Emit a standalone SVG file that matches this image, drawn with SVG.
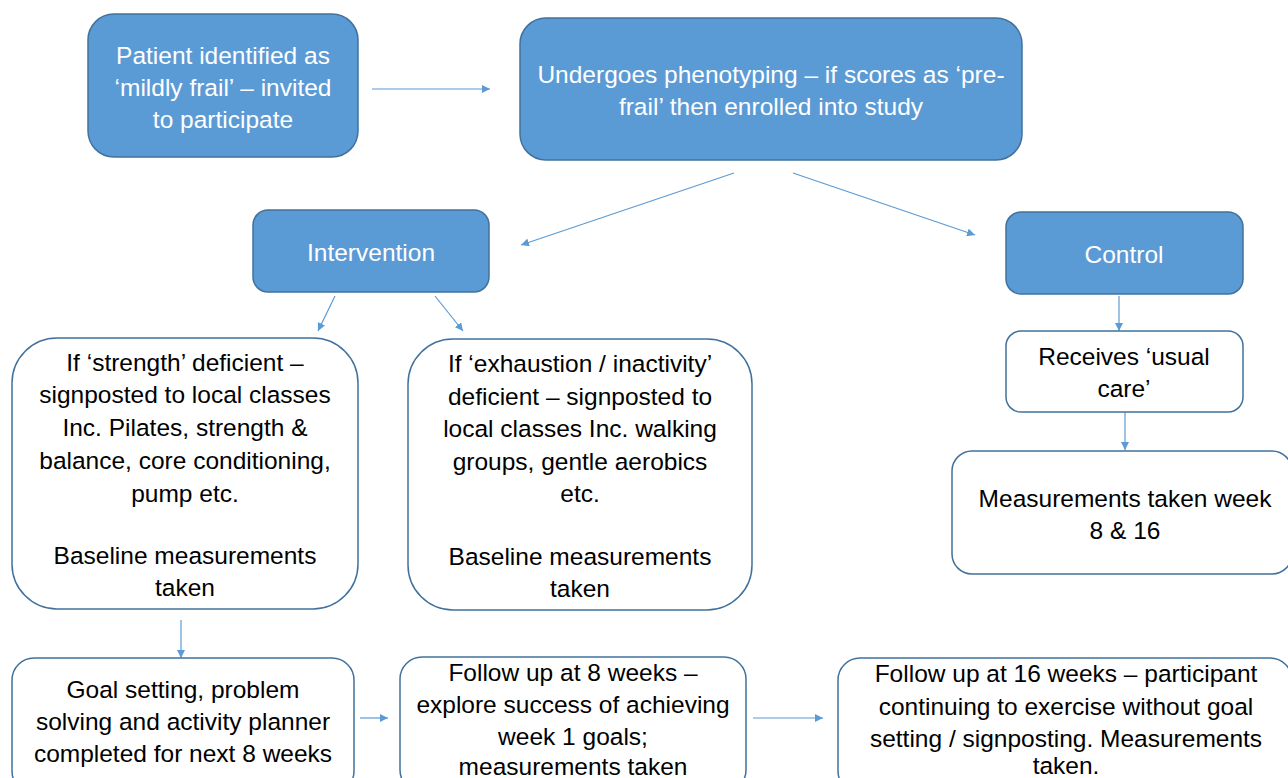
<svg xmlns="http://www.w3.org/2000/svg" width="1288" height="778" viewBox="0 0 1288 778">
<defs>
<style>
.blue{fill:#5b9bd5;stroke:#41719c;stroke-width:1.5}
.white{fill:#ffffff;stroke:#41719c;stroke-width:1.5}
text{font-family:"Liberation Sans","Open Sans",sans-serif;font-size:24.5px;text-anchor:middle}
.wt{fill:#ffffff}
.bt{fill:#000000}
.conn line{stroke:#5b9bd5;stroke-width:1.2;marker-end:url(#ah)}
</style>
<marker id="ah" viewBox="0 0 10 10" refX="10" refY="5" markerWidth="8" markerHeight="8" markerUnits="userSpaceOnUse" orient="auto">
<path d="M0,0 L10,5 L0,10 z" fill="#5b9bd5"/>
</marker>
</defs>
<rect width="1288" height="778" fill="#ffffff"/>
<g class="conn">
<line x1="372" y1="89" x2="490" y2="89"/>
<line x1="734" y1="173" x2="521" y2="245"/>
<line x1="793" y1="173" x2="975" y2="235"/>
<line x1="335" y1="296" x2="318" y2="331"/>
<line x1="435" y1="296" x2="463" y2="331"/>
<line x1="1119" y1="296" x2="1119" y2="331"/>
<line x1="1125" y1="412" x2="1125" y2="450"/>
<line x1="181" y1="620" x2="181" y2="658"/>
<line x1="360" y1="718" x2="388" y2="718"/>
<line x1="753" y1="718" x2="823" y2="718"/>
</g>
<g id="n1">
<rect class="blue" x="88" y="14" width="270" height="143" rx="26"/>
<text class="wt" x="223" y="64">Patient identified as</text>
<text class="wt" x="223" y="96">‘mildly frail’ – invited</text>
<text class="wt" x="223" y="128">to participate</text>
</g>
<g id="n2">
<rect class="blue" x="520" y="18" width="502" height="142" rx="26"/>
<text class="wt" x="771" y="83">Undergoes phenotyping – if scores as ‘pre-</text>
<text class="wt" x="771" y="115">frail’ then enrolled into study</text>
</g>
<g id="n3">
<rect class="blue" x="253" y="210" width="236" height="82" rx="15"/>
<text class="wt" x="371" y="261">Intervention</text>
</g>
<g id="n4">
<rect class="blue" x="1006" y="212" width="237" height="82" rx="15"/>
<text class="wt" x="1124" y="263">Control</text>
</g>
<g id="n5">
<rect class="white" x="12" y="338" width="346" height="271" rx="45"/>
<text class="bt" x="185" y="371">If ‘strength’ deficient –</text>
<text class="bt" x="185" y="403">signposted to local classes</text>
<text class="bt" x="185" y="436">Inc. Pilates, strength &amp;</text>
<text class="bt" x="185" y="469">balance, core conditioning,</text>
<text class="bt" x="185" y="502">pump etc.</text>
<text class="bt" x="185" y="564">Baseline measurements</text>
<text class="bt" x="185" y="596">taken</text>
</g>
<g id="n6">
<rect class="white" x="408" y="339" width="344" height="271" rx="45"/>
<text class="bt" x="580" y="372">If ‘exhaustion / inactivity’</text>
<text class="bt" x="580" y="405">deficient – signposted to</text>
<text class="bt" x="580" y="437">local classes Inc. walking</text>
<text class="bt" x="580" y="470">groups, gentle aerobics</text>
<text class="bt" x="580" y="502">etc.</text>
<text class="bt" x="580" y="565">Baseline measurements</text>
<text class="bt" x="580" y="597">taken</text>
</g>
<g id="n7">
<rect class="white" x="1006" y="331" width="237" height="81" rx="15"/>
<text class="bt" x="1124" y="365">Receives ‘usual</text>
<text class="bt" x="1124" y="397">care’</text>
</g>
<g id="n8">
<rect class="white" x="952" y="451" width="340" height="123" rx="20"/>
<text class="bt" x="1125" y="507">Measurements taken week</text>
<text class="bt" x="1125" y="539">8 &amp; 16</text>
</g>
<g id="n9">
<rect class="white" x="12" y="658" width="342" height="135" rx="22"/>
<text class="bt" x="183" y="698">Goal setting, problem</text>
<text class="bt" x="183" y="730">solving and activity planner</text>
<text class="bt" x="183" y="762">completed for next 8 weeks</text>
</g>
<g id="n10">
<rect class="white" x="400" y="657" width="346" height="135" rx="22"/>
<text class="bt" x="573" y="681">Follow up at 8 weeks –</text>
<text class="bt" x="573" y="713">explore success of achieving</text>
<text class="bt" x="573" y="745">week 1 goals;</text>
<text class="bt" x="573" y="775">measurements taken</text>
</g>
<g id="n11">
<rect class="white" x="838" y="658" width="454" height="135" rx="22"/>
<text class="bt" x="1066" y="682">Follow up at 16 weeks – participant</text>
<text class="bt" x="1066" y="715">continuing to exercise without goal</text>
<text class="bt" x="1066" y="747">setting / signposting. Measurements</text>
<text class="bt" x="1066" y="774">taken.</text>
</g>
</svg>
